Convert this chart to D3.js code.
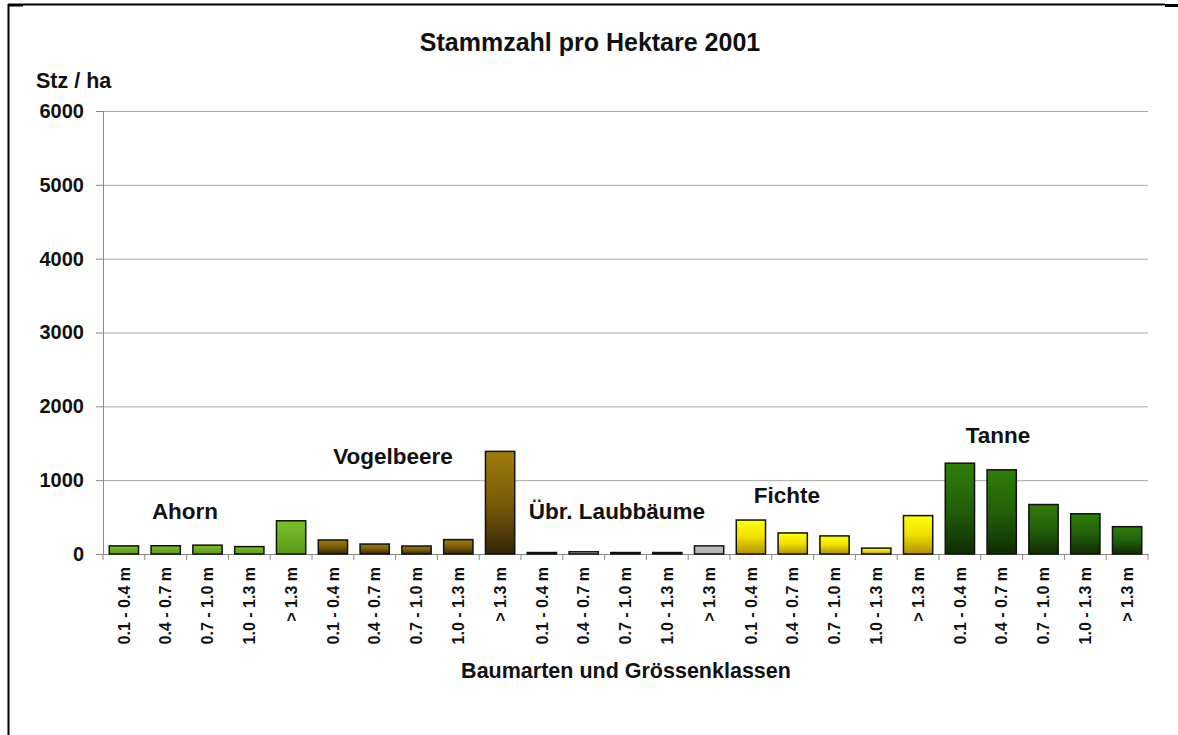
<!DOCTYPE html>
<html><head><meta charset="utf-8">
<script src="https://cdn.jsdelivr.net/npm/d3@7/dist/d3.min.js"></script>
<style>body{margin:0;background:#fff}svg{display:block}text{font-family:"Liberation Sans",Arial,sans-serif;font-weight:bold;fill:#111}</style>
</head><body>
<svg id="c" width="1178" height="735"></svg>
<script>
const sizeClasses = ["0.1 - 0.4 m","0.4 - 0.7 m","0.7 - 1.0 m","1.0 - 1.3 m","> 1.3 m"];
const species = ["Ahorn","Vogelbeere","Übr. Laubbäume","Fichte","Tanne"];
const ahorn = [110, 112, 120, 100, 450];
const vogelbeere = [190, 135, 108, 195, 1390];
const uebrLaub = [20, 30, 20, 20, 110];
const fichte = [460, 285, 245, 80, 520];
const tanne = [1230, 1140, 670, 545, 370];
const yTicks = [0, 1000, 2000, 3000, 4000, 5000, 6000];
const seriesValues = [ahorn, vogelbeere, uebrLaub, fichte, tanne];
const colorTop = ["#7cbf2a", "#9e7c0c", "#c4c4c4", "#ffff10", "#2f7d07"];
const colorMid = ["#6cad20", "#7a5c08", "#b8b8b8", "#f0e000", "#22600a"];
const colorBot = ["#5c9a16", "#33240a", "#a9a9a9", "#b09000", "#0f2c02"];
const labelPos = [[185, 519], [393, 464], [617, 519], [787, 503], [998, 443]];

const data = [];
species.forEach((s, i) => sizeClasses.forEach((c, j) => data.push({sp: i, key: i + "_" + j, cls: c, v: seriesValues[i][j]})));

const svg = d3.select("#c");
const x0 = 103, x1 = 1148, yTop = 111, yZero = 554;
const x = d3.scaleBand().domain(data.map(d => d.key)).range([x0, x1]).paddingInner(0.3).paddingOuter(0.15);
const y = d3.scaleLinear().domain([0, 6000]).range([yZero, yTop]);

// frame
svg.append("line").attr("x1", 8.5).attr("x2", 8.5).attr("y1", 4).attr("y2", 735).attr("stroke", "#000").attr("stroke-width", 2);
svg.append("line").attr("x1", 8).attr("x2", 1165).attr("y1", 4.5).attr("y2", 4.5).attr("stroke", "#000").attr("stroke-width", 2);
svg.append("rect").attr("x", 8).attr("y", 4).attr("width", 15).attr("height", 2.5).attr("fill", "#000");
svg.append("rect").attr("x", 1165).attr("y", 4).attr("width", 13).attr("height", 3).attr("fill", "#000");

const defs = svg.append("defs");
species.forEach((s, i) => {
  const g = defs.append("linearGradient").attr("id", "g" + i).attr("x1", 0).attr("x2", 0).attr("y1", 0).attr("y2", 1);
  g.append("stop").attr("offset", "0%").attr("stop-color", colorTop[i]);
  g.append("stop").attr("offset", "50%").attr("stop-color", colorMid[i]);
  g.append("stop").attr("offset", "100%").attr("stop-color", colorBot[i]);
});

// gridlines
svg.append("g").selectAll("line").data(yTicks.filter(t => t > 0)).join("line")
  .attr("x1", x0).attr("x2", x1).attr("y1", d => y(d) + 0.5).attr("y2", d => y(d) + 0.5)
  .attr("stroke", "#a8a8a8").attr("stroke-width", 1);

// y axis
const ya = svg.append("g").attr("transform", `translate(${x0},0)`)
  .call(d3.axisLeft(y).tickValues(yTicks).tickSize(7).tickPadding(12).tickFormat(d3.format("d")));
ya.select(".domain").attr("stroke", "#888");
ya.selectAll(".tick line").attr("stroke", "#888");
ya.selectAll("text").style("font-size", "20px").attr("fill", "#111");

// x axis
const xa = svg.append("g").attr("transform", `translate(0,${yZero})`)
  .call(d3.axisBottom(x).tickSize(0).tickFormat(k => data.find(d => d.key === k).cls));
xa.select(".domain").attr("stroke", "#888");
xa.selectAll("text").style("font-size", "16px").attr("fill", "#111")
  .attr("text-anchor", "end").attr("transform", "rotate(-90)").attr("x", -13).attr("y", 0).attr("dy", "0.35em");
// band boundary ticks
svg.append("g").selectAll("line").data(d3.range(data.length + 1)).join("line")
  .attr("x1", i => x0 + i * (x1 - x0) / data.length).attr("x2", i => x0 + i * (x1 - x0) / data.length)
  .attr("y1", yZero).attr("y2", yZero + 6).attr("stroke", "#888");

// bars
svg.append("g").selectAll("rect").data(data).join("rect")
  .attr("x", d => x(d.key)).attr("width", x.bandwidth())
  .attr("y", d => y(d.v)).attr("height", d => yZero - y(d.v))
  .attr("fill", d => `url(#g${d.sp})`).attr("stroke", "#111").attr("stroke-width", 1.5);

// species labels
svg.append("g").selectAll("text").data(species).join("text")
  .attr("x", (d, i) => labelPos[i][0]).attr("y", (d, i) => labelPos[i][1])
  .attr("text-anchor", "middle").style("font-size", "22.5px").text(d => d);

svg.append("text").attr("x", 590).attr("y", 51).attr("text-anchor", "middle").style("font-size", "25px").text("Stammzahl pro Hektare 2001");
svg.append("text").attr("x", 36).attr("y", 88).style("font-size", "21.5px").text("Stz / ha");
svg.append("text").attr("x", 626).attr("y", 678).attr("text-anchor", "middle").style("font-size", "21.5px").text("Baumarten und Grössenklassen");
</script>
</body></html>
